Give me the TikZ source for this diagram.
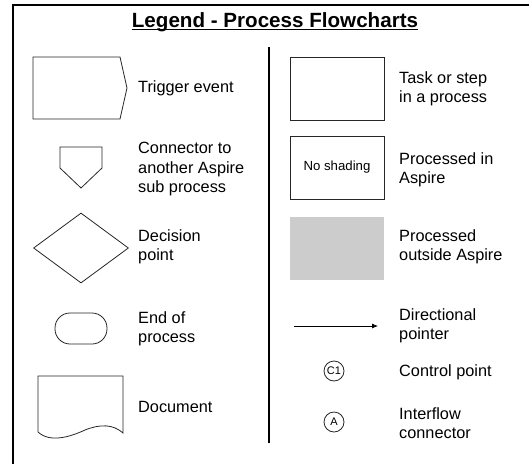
\documentclass[tikz,border=0pt]{standalone}
\usepackage{fontspec}
\setmainfont{Liberation Sans}
\usetikzlibrary{arrows.meta,shapes.geometric}

\begin{document}
\begin{tikzpicture}[x=1pt,y=-1pt,
    lbl/.style={anchor=west,align=left,inner sep=0pt,font=\fontsize{16.3}{19.5}\selectfont},
    shp/.style={draw=black!85,line width=0.8pt},
    box/.style={rectangle,minimum width=94pt,minimum height=63pt,inner sep=0pt},
    pnt/.style={shp,circle,minimum size=20pt,inner sep=0pt,font=\fontsize{11}{13}\selectfont}]

\useasboundingbox (0,0) rectangle (529,463);

%---------------- frame and title -----------------
\begin{scope}
  \clip (0,0) rectangle (529,463);
  \draw[line width=1.6pt] (13,5) rectangle (545,480);
\end{scope}
\node[anchor=base,inner sep=0pt,font=\bfseries\fontsize{20.6}{24}\selectfont] (title) at (275,27)
      {Legend - Process Flowcharts};
\draw[line width=1.3pt] ([yshift=-2.6pt]title.base west) -- ([yshift=-2.6pt]title.base east);
\coordinate (divtop) at (269,47);
\coordinate (divbot) at (269,443);
\draw[line width=1.5pt] (divtop) -- (divbot);

%---------------- left column -----------------
% trigger event
\draw[shp] (33,57) -- (120,57) -- (127,88) -- (120,119) -- (33,119) -- cycle;
\node[lbl] (trig) at (138,88) {Trigger event};
% off-page connector
\draw[shp] (60,147) -- (102,147) -- (102,168) -- (81,188) -- (60,168) -- cycle;
\node[lbl] (conn) at (138,169) {Connector to\\another Aspire\\sub process};
% decision
\node[shp,diamond,minimum width=95pt,minimum height=70pt,inner sep=0pt] (dec) at (81,248) {};
\node[lbl] (dectxt) at (138,247) {Decision\\point};
% terminator
\node[shp,rectangle,rounded corners=15pt,minimum width=52pt,minimum height=31pt,inner sep=0pt] (endp) at (81,328.5) {};
\node[lbl] (endtxt) at (138,329) {End of\\process};
% document
\draw[shp] (38,432) -- (38,376) -- (123,376) -- (123,433)
      .. controls (113,424) and (100,424) .. (85,430)
      .. controls (70,437) and (50,443) .. (38,432);
\node[lbl] (doctxt) at (138,407) {Document};

%---------------- right column -----------------
\node[shp,box] (task) at (337,88.5) {};
\node[lbl] (tasktxt) at (399,89) {Task or step\\in a process};
\node[shp,box,font=\fontsize{13.2}{15}\selectfont] (noshade) at (337,167.5) {No shading};
\node[lbl] (intxt) at (399,170) {Processed in\\Aspire};
\node[box,fill=black!20] (shade) at (337,248.5) {};
\node[lbl] (outtxt) at (399,247) {Processed\\outside Aspire};
% directional pointer
\coordinate (pa) at (294,326);
\coordinate (pb) at (378,326);
\draw[line width=0.8pt,-{Latex[length=6pt,width=5pt]}] (pa) -- (pb);
\node[lbl] (dirtxt) at (399,326) {Directional\\pointer};
% control point and interflow connector
\node[pnt] (cp) at (334,371) {C1};
\node[lbl] (cptxt) at (399,372) {Control point};
\node[pnt] (ifc) at (334,422) {A};
\node[lbl] (ifctxt) at (399,423) {Interflow\\connector};

\end{tikzpicture}
\end{document}
